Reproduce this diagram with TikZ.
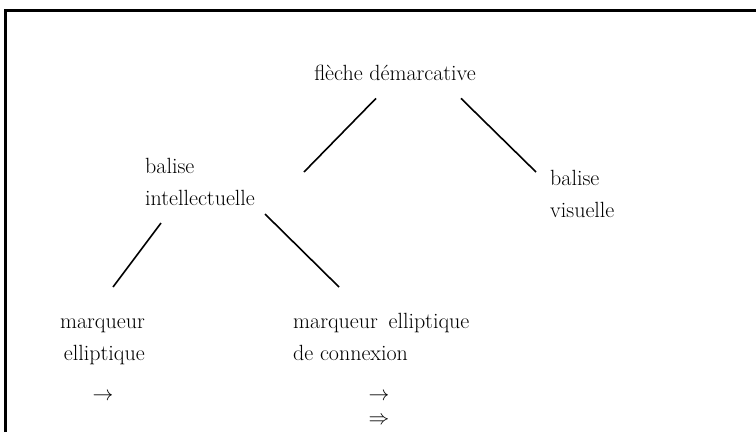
\documentclass[tikz,border=0pt]{standalone}
\usetikzlibrary{calc}
\begin{document}
\begin{tikzpicture}[x=1pt,y=-1pt,
  term/.style={inner sep=0pt, font=\fontsize{22}{32}\selectfont},
  branch/.style={line width=1.6pt}]

\useasboundingbox (0,0) rectangle (756,432);

% draw frame
\draw [line width=2.4pt] (5.5,432) -- (5.5,10.5) -- (756,10.5);

% draw terms (base = last line)
\node (top) [term, anchor=base] at (395,80) {flèche démarcative};
\node (intel) [term, anchor=base west, align=left] at (145,205) {balise\\intellectuelle};
\node (visu) [term, anchor=base west, align=left] at (550,217) {balise\\visuelle};
\node (ell) [term, anchor=base east, align=right] at (145,360) {marqueur\\elliptique};
\node (conn) [term, anchor=base west, align=left] at (293,360) {marqueur\hspace{4pt} elliptique\\de connexion};

% draw arrows
\node (ellarrow) [term] at (103,397) {$\rightarrow$};
\node (connarrow) [term] at (379,397) {$\rightarrow$};
\node (conndouble) [term] at (379,421) {$\Rightarrow$};

% draw branches
\draw [branch] ($(top.south)+(-19,18)$) -- ($(intel.base west)+(159,-33)$);
\draw [branch] ($(top.south)+(66,18)$) -- ($(visu.base west)+(-14,-45)$);
\draw [branch] ($(intel.base west)+(16,18)$) -- ($(ell.base east)+(-32,-73)$);
\draw [branch] ($(intel.base west)+(120,9)$) -- ($(conn.base west)+(46,-73)$);

\end{tikzpicture}
\end{document}
